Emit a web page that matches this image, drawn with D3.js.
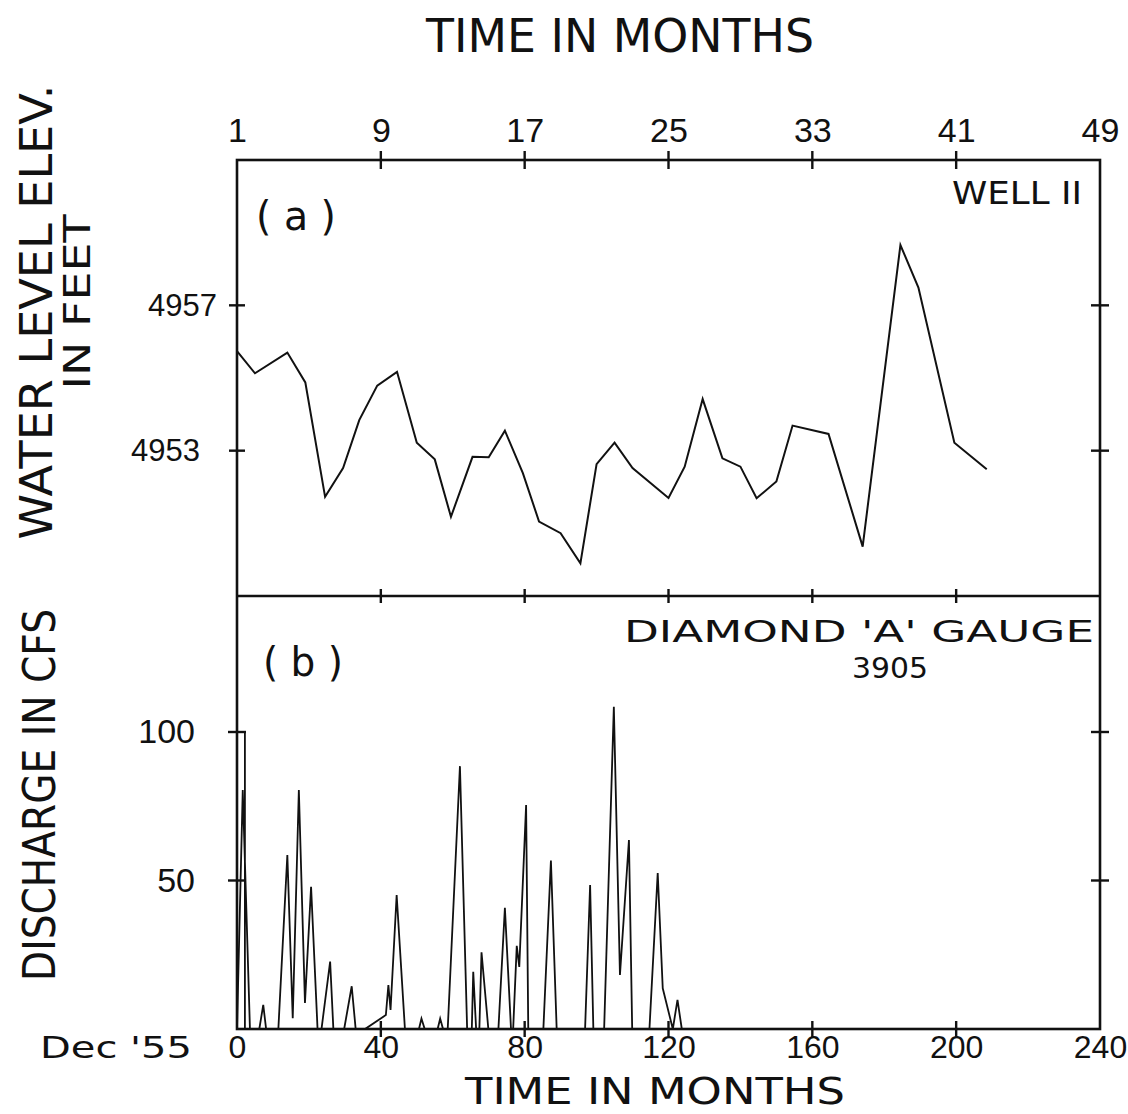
<!DOCTYPE html>
<html>
<head>
<meta charset="utf-8">
<script src="https://cdn.jsdelivr.net/npm/d3@7"></script>
<style>
  html, body { margin: 0; padding: 0; background: #fff; }
  svg { display: block; }
  text { font-family: "Liberation Sans", Arial, sans-serif; fill: #111; }
  text.lettering { font-family: "DejaVu Sans", "Liberation Sans", sans-serif; }
</style>
</head>
<body>
<svg id="chart" width="1128" height="1114"></svg>
<script>
// Well 11 water level (feet), by month number on the upper time scale
const wellMonths = [1, 2, 3.8, 4.8, 5.9, 6.9, 7.8, 8.8, 9.9, 11.0, 12.0, 12.9, 14.1, 15.0, 15.9, 16.9, 17.8, 19.0,
  20.1, 21.0, 22.0, 23.0, 25.0, 25.9, 26.9, 28.0, 29.0, 29.9, 31.0, 31.9, 33.9, 35.8, 37.9, 38.9, 40.9, 42.7];
const wellLevels = [4955.74, 4955.13, 4955.70, 4954.88, 4951.73, 4952.52, 4953.84, 4954.79, 4955.17, 4953.22,
  4952.76, 4951.18, 4952.83, 4952.82, 4953.55, 4952.38, 4951.05, 4950.73, 4949.90, 4952.63, 4953.22, 4952.52,
  4951.70, 4952.56, 4954.42, 4952.79, 4952.56, 4951.69, 4952.15, 4953.69, 4953.46, 4950.36, 4958.66, 4957.49,
  4953.22, 4952.49];

// Diamond 'A' gauge 3905 discharge (cfs), months since Dec '55
const flowMonths = [0, 0, 2.2, 2.2, 0, 1.6, 3.6,
  6.2, 7.3, 8.1,
  11.5, 14.0, 15.5, 17.2, 18.9, 20.6, 22.4,
  23.5, 25.9, 26.8,
  29.8, 31.9, 33.0,
  35.6, 41.4, 42.1, 42.7, 44.4, 46.7,
  50.6, 51.3, 52.2,
  55.8, 56.5, 57.3,
  58.6, 62.0, 64.0,
  65.3, 65.7, 66.5,
  67.4, 68.0, 69.9,
  72.7, 74.5, 76.2,
  76.8, 77.8, 78.5, 80.4, 81.0,
  85.2, 87.3, 88.9,
  96.8, 98.2, 99.1,
  102.1, 104.8, 106.5, 109.0, 109.9,
  114.7, 117.0, 118.4, 121.2, 122.5, 123.7];
const flowCfs = [0, 100, 100, 0, 0, 80.5, 0,
  0, 8.1, 0,
  0, 58.6, 3.6, 80.5, 8.8, 47.9, 0,
  0, 22.7, 0,
  0, 14.4, 0,
  0, 4.7, 14.8, 6.4, 45.1, 0,
  0, 3.5, 0,
  0, 3.5, 0,
  0, 88.5, 0,
  0, 19.3, 0,
  0, 25.8, 0,
  0, 40.8, 0,
  0, 28.0, 20.9, 75.4, 0,
  0, 56.7, 0,
  0, 48.5, 0,
  0, 108.5, 18.2, 63.6, 0,
  0, 52.5, 13.7, 0, 9.8, 0];

// Axis ticks
const topMonthTicks = [1, 9, 17, 25, 33, 41, 49];
const bottomMonthTicks = [0, 40, 80, 120, 160, 200, 240];
const levelTicks = [4953, 4957];
const flowTicks = [50, 100];

const svg = d3.select("#chart");
const left = 237, right = 1100;
const topY = 160, midY = 596, botY = 1029;

const xTop = d3.scaleLinear().domain([1, 49]).range([left, right]);
const xBot = d3.scaleLinear().domain([0, 240]).range([left, right]);
const yLevel = d3.scaleLinear().domain([4949, 4961]).range([midY, topY]);
const yFlow = d3.scaleLinear().domain([0, 100]).range([botY, 732]);

const ink = "#111";

// Data lines
const wellLine = d3.line().x(d => xTop(d[0])).y(d => yLevel(d[1]));
svg.append("path")
  .datum(d3.zip(wellMonths, wellLevels))
  .attr("d", wellLine)
  .attr("fill", "none").attr("stroke", ink).attr("stroke-width", 2)
  .attr("stroke-linejoin", "miter");

const flowLine = d3.line().x(d => xBot(d[0])).y(d => yFlow(d[1]));
svg.append("path")
  .datum(d3.zip(flowMonths, flowCfs))
  .attr("d", flowLine)
  .attr("fill", "none").attr("stroke", ink).attr("stroke-width", 1.8)
  .attr("stroke-linejoin", "miter");

// Frame and divider
svg.append("rect")
  .attr("x", left).attr("y", topY).attr("width", right - left).attr("height", botY - topY)
  .attr("fill", "none").attr("stroke", ink).attr("stroke-width", 2.6);
svg.append("line")
  .attr("x1", left).attr("x2", right).attr("y1", midY).attr("y2", midY)
  .attr("stroke", ink).attr("stroke-width", 2.6);

// Tick marks that cross the frame lines
function crossTicks(values, scale, orient, at, len) {
  const g = svg.append("g");
  values.forEach(v => {
    const p = scale(v);
    if (orient === "h") {
      g.append("line").attr("x1", at - len).attr("x2", at + len).attr("y1", p).attr("y2", p);
    } else {
      g.append("line").attr("y1", at - len).attr("y2", at + len).attr("x1", p).attr("x2", p);
    }
  });
  g.selectAll("line").attr("stroke", ink).attr("stroke-width", 2.4);
}
const innerTop = topMonthTicks.slice(1, -1);
const innerBot = bottomMonthTicks.slice(1, -1);
crossTicks(innerTop, xTop, "v", topY, 9);
crossTicks(innerBot, xBot, "v", midY, 7);
crossTicks(innerBot, xBot, "v", botY, 8);
crossTicks(levelTicks, yLevel, "h", left, 8);
crossTicks(levelTicks, yLevel, "h", right, 9);
crossTicks(flowTicks, yFlow, "h", left, 9);
crossTicks(flowTicks, yFlow, "h", right, 9);

// Tick labels via d3 axes (lines hidden, labels kept)
function labelAxis(axis, transform, size) {
  const g = svg.append("g").attr("transform", transform).call(axis);
  g.select(".domain").remove();
  g.selectAll(".tick line").remove();
  g.attr("font-family", null).attr("font-size", size);
  g.selectAll("text").attr("fill", ink);
  return g;
}
labelAxis(d3.axisTop(xTop).tickValues(topMonthTicks).tickSize(0).tickPadding(0),
  `translate(0,${topY - 18})`, 34);
labelAxis(d3.axisBottom(xBot).tickValues(bottomMonthTicks).tickSize(0).tickPadding(0),
  `translate(0,${botY + 6})`, 32);
const lvl = labelAxis(d3.axisLeft(yLevel).tickValues(levelTicks).tickFormat(d3.format("d")).tickSize(0).tickPadding(0),
  `translate(${left - 20},0)`, 31);
lvl.selectAll(".tick").filter(d => d === 4953).select("text").attr("dx", -17);
labelAxis(d3.axisLeft(yFlow).tickValues(flowTicks).tickSize(0).tickPadding(0),
  `translate(${left - 42},0)`, 34);

// Titles and annotations
function txt(s, x, y, size, opts = {}) {
  const t = svg.append("text").attr("class", "lettering").attr("x", x).attr("y", y).attr("font-size", size)
    .attr("text-anchor", opts.anchor || "start").text(s);
  if (opts.length) t.attr("textLength", opts.length).attr("lengthAdjust", "spacingAndGlyphs");
  if (opts.rotate) t.attr("transform", `rotate(-90,${x},${y})`);
  return t;
}
txt("TIME  IN  MONTHS", 620, 52, 46, { anchor: "middle", length: 388 });
txt("TIME  IN  MONTHS", 655, 1104, 38, { anchor: "middle", length: 380 });
txt("WATER LEVEL ELEV.", 52, 312, 44, { anchor: "middle", rotate: true, length: 455 });
txt("IN FEET", 90, 302, 38, { anchor: "middle", rotate: true, length: 175 });
txt("DISCHARGE IN CFS", 55, 795, 44, { anchor: "middle", rotate: true, length: 372 });
txt("( a )", 256, 230, 40, { length: 80 });
txt("( b )", 263, 676, 40, { length: 80 });
txt("WELL II", 1082, 204, 32, { anchor: "end", length: 130 });
txt("DIAMOND 'A' GAUGE", 1094, 642, 30, { anchor: "end", length: 470 });
txt("3905", 890, 678, 28, { anchor: "middle", length: 76 });
txt("Dec '55", 40, 1058, 30, { length: 152 });
</script>
</body>
</html>
